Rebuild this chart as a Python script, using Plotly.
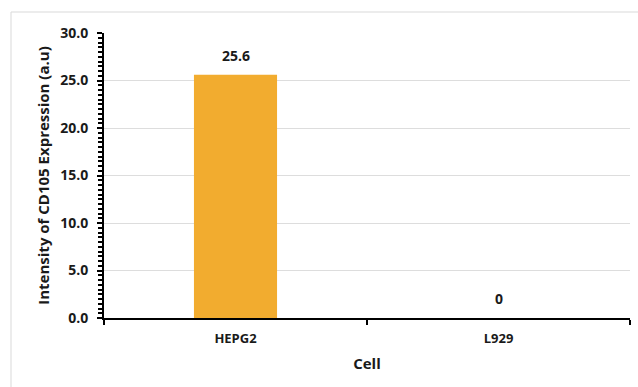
import plotly.graph_objects as go

categories = ["HEPG2", "L929"]
values = [25.6, 0]
label_texts = ["25.6", "0"]
y_ticks = [0, 5, 10, 15, 20, 25, 30]
y_tick_labels = ["0.0", "5.0", "10.0", "15.0", "20.0", "25.0", "30.0"]

W, H = 638, 387
L, R, T, B = 104, 8, 33, 69
pw, ph = W - L - R, H - T - B

fig = go.Figure()
fig.add_trace(go.Bar(
    x=categories, y=values, width=0.316,
    marker=dict(color="#F2AC2F", line=dict(width=0)),
    hoverinfo="skip",
))
for cat, val, txt in zip(categories, values, label_texts):
    fig.add_annotation(
        x=cat, y=val, text=txt, showarrow=False, yanchor="bottom", yshift=8,
        font=dict(family="Open Sans", size=14, color="#1a1a1a", weight="bold"),
    )

fig.update_layout(
    width=W, height=H,
    margin=dict(l=L, r=R, t=T, b=B),
    paper_bgcolor="white", plot_bgcolor="white",
    showlegend=False,
    font=dict(family="Open Sans", color="#1a1a1a"),
)
fig.update_xaxes(
    showline=True, linecolor="black", linewidth=2,
    ticks="outside", tickson="boundaries", ticklen=5, tickcolor="black", tickwidth=2,
    tickfont=dict(size=13, weight="bold"), ticklabelstandoff=7,
    title=dict(text="Cell", font=dict(size=15, weight="bold"), standoff=13),
    showgrid=False,
)
fig.update_yaxes(
    range=[0, 30], tickvals=y_ticks, ticktext=y_tick_labels,
    showline=True, linecolor="black", linewidth=2,
    ticks="outside", ticklen=5, tickcolor="black", tickwidth=2,
    minor=dict(dtick=0.5, ticks="outside", ticklen=4, tickcolor="black", tickwidth=1.5, showgrid=False),
    tickfont=dict(size=14, weight="bold"), ticklabelstandoff=6,
    gridcolor="#DDDDDD", gridwidth=1,
    title=dict(text="Intensity of CD105 Expression (a.u)", font=dict(size=15, weight="bold"), standoff=7),
    zeroline=False,
)
fig.add_shape(
    type="rect", xref="paper", yref="paper",
    x0=(11 - L) / pw, x1=(W + 5 - L) / pw,
    y0=(H - B - (H + 5)) / ph, y1=(H - B - 12) / ph,
    line=dict(color="#D9D9D9", width=1), fillcolor="rgba(0,0,0,0)", layer="below",
)
fig.write_html(
    "out.html",
    config={"displayModeBar": False},
    post_script="document.body.style.margin='0';document.body.style.overflow='hidden';",
)
